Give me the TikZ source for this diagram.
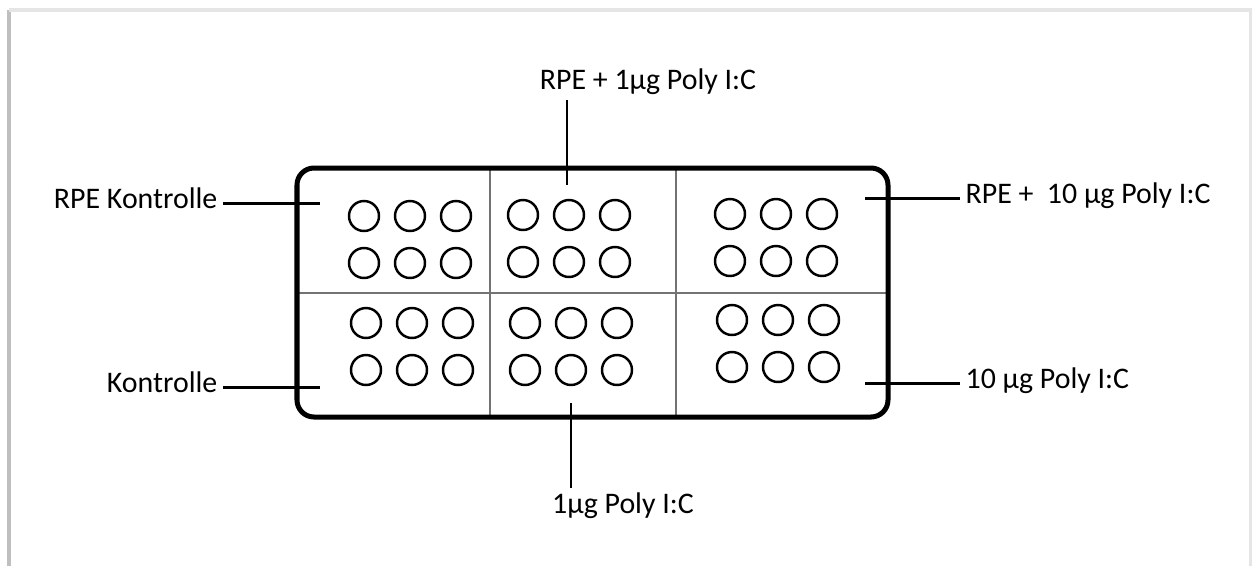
\documentclass[tikz,border=0pt]{standalone}
\usepackage{fontspec}
\setmainfont{Carlito}
\begin{document}
\begin{tikzpicture}[x=0.02cm,y=-0.02cm,
  lab/.style={font=\fontsize{17}{20}\selectfont,inner sep=3pt,text height=0.644em,text depth=0pt},
  lead/.style={line width=1.7pt},
  well/.style={line width=1.4pt},
  divider/.style={line width=0.8pt,black!55}]
\useasboundingbox (0,0) rectangle (1252,566);
% page frame
\draw[black!25,line width=2pt] (9,566) -- (9,10);
\draw[black!10,line width=2pt] (9,10) -- (1251,10) -- (1251,566);

% plate with six fields
\draw[divider] (490,168) -- (490,417);
\draw[divider] (676,168) -- (676,417);
\draw[divider] (297,293) -- (888,293);
\draw[line width=2.85pt,rounded corners=0.34cm] (297,168) rectangle (888,417);

% wells, 2 x 3 per field
\foreach \x/\y in {364/216,366/323,523/215,525/323,730/214,732/320}
  \foreach \i in {0,1,2}
    \foreach \j in {0,1}
      \draw[well] (\x+46*\i,\y+47*\j) circle[radius=0.3cm];

% labels
\node[lab,anchor=east] (rpectrl) at (223,203) {RPE Kontrolle};
\node[lab,anchor=east] (ctrl) at (223,387) {Kontrolle};
\node[lab] (rpelow) at (648,84) {RPE + 1µg Poly I:C};
\node[lab] (low) at (623,508) {1µg Poly I:C};
\node[lab,anchor=west] (rpehigh) at (960,198) {RPE +\ \ 10 µg Poly I:C};
\node[lab,anchor=west] (high) at (960,383) {10 µg Poly I:C};

\coordinate (rpectrlin) at (320,203);
\coordinate (ctrlin) at (320,387);
\coordinate (rpelowin) at (567,185);
\coordinate (lowin) at (571,403);
\coordinate (rpehighin) at (865,198);
\coordinate (highin) at (865,383);

% leader lines
\draw[lead] (rpectrl) -- (rpectrlin);
\draw[lead] (ctrl) -- (ctrlin);
\draw[lead,shorten >=2.4pt] (rpelowin) -- (rpelowin |- rpelow.south);
\draw[lead,shorten >=5pt] (lowin) -- (lowin |- low.north);
\draw[lead] (rpehighin) -- (rpehigh);
\draw[lead] (highin) -- (high);
\end{tikzpicture}
\end{document}
